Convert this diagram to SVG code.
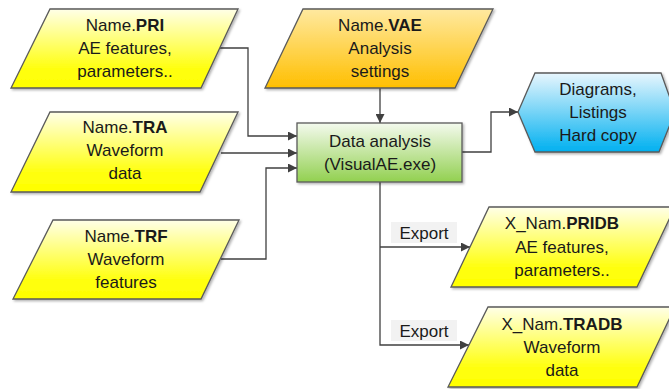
<svg xmlns="http://www.w3.org/2000/svg" width="669" height="389" viewBox="0 0 669 389">
<defs>
<linearGradient id="gY" x1="0" y1="0" x2="0" y2="1"><stop offset="0" stop-color="#ffffe8"/><stop offset="0.75" stop-color="#ffff10"/><stop offset="1" stop-color="#ffff00"/></linearGradient>
<linearGradient id="gO" x1="0" y1="0" x2="0" y2="1"><stop offset="0" stop-color="#ffe9a0"/><stop offset="1" stop-color="#ffbf00"/></linearGradient>
<linearGradient id="gG" x1="0" y1="0" x2="0" y2="1"><stop offset="0" stop-color="#f4faee"/><stop offset="1" stop-color="#92d050"/></linearGradient>
<linearGradient id="gB" x1="0" y1="0" x2="0" y2="1"><stop offset="0" stop-color="#e8f6fd"/><stop offset="1" stop-color="#00b0f0"/></linearGradient>
<filter id="sh" x="-10%" y="-10%" width="130%" height="130%"><feDropShadow dx="1.5" dy="1.5" stdDeviation="1" flood-color="#000" flood-opacity="0.3"/></filter>
<marker id="ah" viewBox="0 0 10 10" refX="10" refY="5" markerWidth="9" markerHeight="9" markerUnits="userSpaceOnUse" orient="auto"><path d="M0,0 L10,5 L0,10 z" fill="#404040"/></marker>
</defs>
<style>
.s{stroke:#5a5a5a;stroke-width:1.3;filter:url(#sh)}
.t{font-family:"Liberation Sans",Arial,sans-serif;font-size:17px;fill:#1a1a1a;text-anchor:middle}
.b{font-weight:bold}
.c{fill:none;stroke:#404040;stroke-width:1.3}
.lb{fill:#f2f2f2}
</style>
<g id="connectors">
<polyline class="c" points="220,48 248,48 248,136 297,136" marker-end="url(#ah)"/>
<polyline class="c" points="221,153 297,153" marker-end="url(#ah)"/>
<polyline class="c" points="221,259 266,259 266,168 297,168" marker-end="url(#ah)"/>
<polyline class="c" points="380,88 380,123" marker-end="url(#ah)"/>
<polyline class="c" points="462,152 491,152 491,112 518,112" marker-end="url(#ah)"/>
<polyline class="c" points="380,182 380,345 469,345" marker-end="url(#ah)"/>
<polyline class="c" points="380,247 470,247" marker-end="url(#ah)"/>
<rect class="lb" x="391" y="222" width="66" height="21"/>
<text class="t" x="424" y="239">Export</text>
<rect class="lb" x="391" y="320" width="66" height="21"/>
<text class="t" x="424" y="337">Export</text>
</g>
<g id="pri">
<polygon class="s" fill="url(#gY)" points="50,9 238,9 201,88 11,88"/>
<text class="t" x="125" y="31">Name.<tspan class="b">PRI</tspan></text>
<text class="t" x="125" y="54">AE features,</text>
<text class="t" x="125" y="77">parameters..</text>
</g>
<g id="tra">
<polygon class="s" fill="url(#gY)" points="50,112 238,112 200,192 11,192"/>
<text class="t" x="125" y="133">Name.<tspan class="b">TRA</tspan></text>
<text class="t" x="125" y="156">Waveform</text>
<text class="t" x="125" y="179">data</text>
</g>
<g id="trf">
<polygon class="s" fill="url(#gY)" points="53,220 239,220 201,299 13,299"/>
<text class="t" x="126" y="242">Name.<tspan class="b">TRF</tspan></text>
<text class="t" x="126" y="265">Waveform</text>
<text class="t" x="126" y="288">features</text>
</g>
<g id="vae">
<polygon class="s" fill="url(#gO)" points="303,9 493,9 455,88 265,88"/>
<text class="t" x="380" y="31">Name.<tspan class="b">VAE</tspan></text>
<text class="t" x="380" y="54">Analysis</text>
<text class="t" x="380" y="77">settings</text>
</g>
<g id="analysis">
<rect class="s" fill="url(#gG)" x="297" y="123" width="165" height="59"/>
<text class="t" x="380" y="147">Data analysis</text>
<text class="t" x="380" y="170">(VisualAE.exe)</text>
</g>
<g id="output">
<polygon class="s" fill="url(#gB)" points="518,112 535,73 661,73 675,112 659,152 535,152"/>
<text class="t" x="598" y="95">Diagrams,</text>
<text class="t" x="598" y="118">Listings</text>
<text class="t" x="598" y="141">Hard copy</text>
</g>
<g id="pridb">
<polygon class="s" fill="url(#gY)" points="489,207 675,207 637,287 451,287"/>
<text class="t" x="562" y="229">X_Nam.<tspan class="b">PRIDB</tspan></text>
<text class="t" x="562" y="253">AE features,</text>
<text class="t" x="562" y="276">parameters..</text>
</g>
<g id="tradb">
<polygon class="s" fill="url(#gY)" points="488,307 675,307 637,387 448,387"/>
<text class="t" x="562" y="330">X_Nam.<tspan class="b">TRADB</tspan></text>
<text class="t" x="562" y="353">Waveform</text>
<text class="t" x="562" y="376">data</text>
</g>
</svg>
